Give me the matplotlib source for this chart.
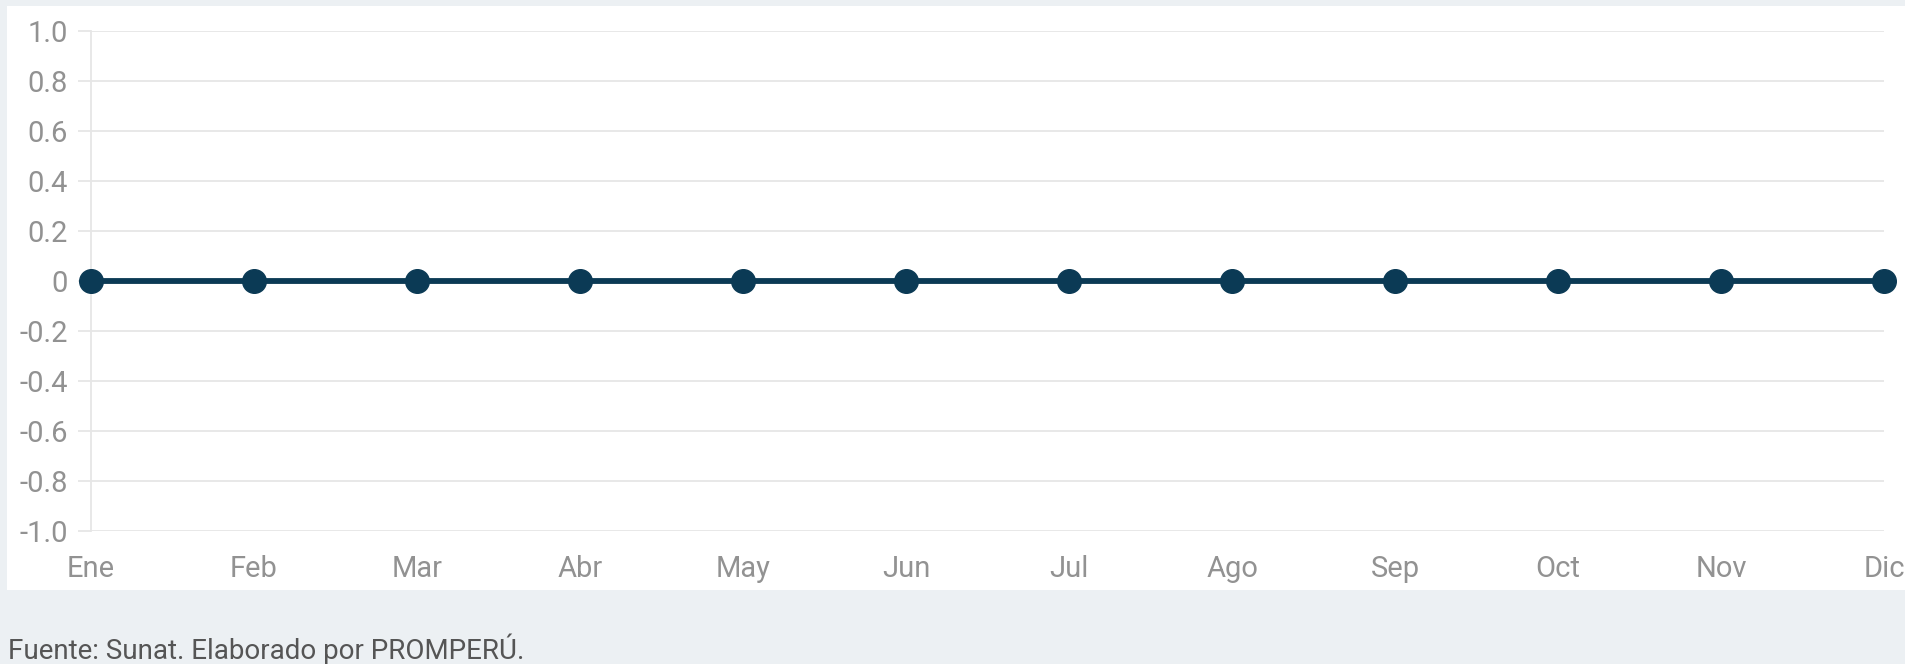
import matplotlib
matplotlib.use("Agg")
import matplotlib.pyplot as plt
from matplotlib.patches import Rectangle

meses = ['Ene', 'Feb', 'Mar', 'Abr', 'May', 'Jun', 'Jul', 'Ago', 'Sep', 'Oct', 'Nov', 'Dic']
serie_principal = [0, 0, 0, 0, 0, 0, 0, 0, 0, 0, 0, 0]
serie_secundaria = [0, 0, 0, 0, 0, 0, 0, 0, 0, 0, 0, 0]
yticks = [-1.0, -0.8, -0.6, -0.4, -0.2, 0, 0.2, 0.4, 0.6, 0.8, 1.0]
ytick_labels = ['-1.0', '-0.8', '-0.6', '-0.4', '-0.2', '0', '0.2', '0.4', '0.6', '0.8', '1.0']

plt.rcParams['font.family'] = ['Roboto', 'DejaVu Sans']

W, H = 1906, 664
fig = plt.figure(figsize=(W / 100, H / 100), dpi=100)
fig.patch.set_facecolor('#ECF0F3')

# panel blanco detras del grafico
fig.patches.append(Rectangle((7 / W, 1 - 590 / H), 1 - 7 / W, (590 - 6) / H,
                             transform=fig.transFigure, facecolor='white',
                             edgecolor='none', zorder=-5))

ax = fig.add_axes([91 / W, 1 - 531 / H, (1884 - 91) / W, 500 / H])
ax.set_facecolor('none')

x = list(range(len(meses)))
ax.plot(x, serie_secundaria, color='#E8A33D', lw=2.5, zorder=3, clip_on=False)
ax.plot(x, serie_principal, color='#0B3A55', lw=4.2, marker='o', ms=17,
        markeredgecolor='#0B3A55', zorder=4, clip_on=False)

ax.set_xlim(0, 11)
ax.set_ylim(-1, 1)
ax.set_yticks(yticks)
ax.set_yticklabels(ytick_labels)
ax.set_xticks(x)
ax.set_xticklabels(meses)

ax.grid(axis='y', color='#E6E6E6', lw=1.3)
ax.set_axisbelow(True)
for s in ['top', 'right', 'bottom']:
    ax.spines[s].set_visible(False)
ax.spines['left'].set_color('#E6E6E6')
ax.spines['left'].set_linewidth(1.3)

ax.tick_params(axis='y', length=9.5, width=1.3, color='#E6E6E6', pad=7,
               labelsize=21, labelcolor='#929292')
ax.tick_params(axis='x', length=0, pad=17, labelsize=21, labelcolor='#929292')

fig.text(8 / W, 1 - 659 / H, 'Fuente: Sunat. Elaborado por PROMPERÚ.',
         fontsize=20, color='#555555', ha='left', va='baseline')

fig.savefig('out.png', dpi=100, facecolor=fig.get_facecolor())
